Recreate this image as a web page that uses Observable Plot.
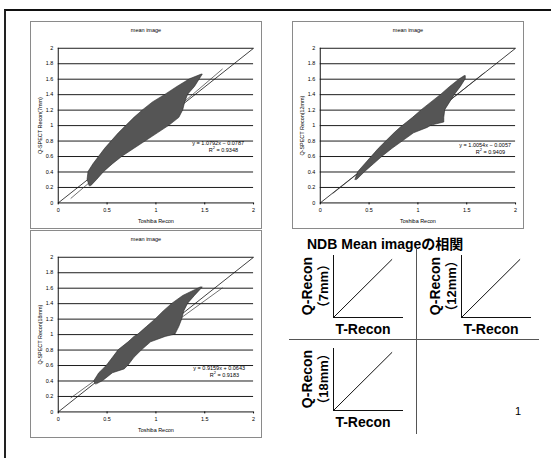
<!DOCTYPE html>
<html><head><meta charset="utf-8">
<script src="https://cdn.jsdelivr.net/npm/d3@7"></script>
<script src="https://cdn.jsdelivr.net/npm/@observablehq/plot@0.6"></script>
<style>
html,body{margin:0;padding:0;background:#fff;}
#page{position:relative;width:551px;height:462px;overflow:hidden;font-family:"Liberation Sans",Arial,sans-serif;}
.abs{position:absolute;}
.box{position:absolute;border:1px solid #8a8a8a;box-sizing:border-box;width:232px;height:208px;}
.box svg{position:absolute;left:0;top:0;}
.small{position:absolute;font-size:5.5px;color:#000;white-space:nowrap;line-height:7px;}
.big{position:absolute;font-weight:bold;font-size:14px;color:#000;white-space:nowrap;font-family:"Liberation Sans",Arial,"Noto Sans CJK JP",sans-serif;}
</style></head>
<body><div id="page"></div>
<script>
// ---- data ----
const xTicks = [0, 0.5, 1, 1.5, 2];
const yTicks = [0, 0.2, 0.4, 0.6, 0.8, 1, 1.2, 1.4, 1.6, 1.8, 2];
const identityX = [0, 2];
const identityY = [0, 2];

// 7mm cloud (horizontal slices)
const c7Y     = [0.22, 0.30, 0.40, 0.50, 0.60, 0.70, 0.80, 0.90, 1.00, 1.10, 1.20, 1.30, 1.40, 1.50, 1.60, 1.66];
const c7Left  = [0.32, 0.30, 0.31, 0.36, 0.42, 0.48, 0.55, 0.62, 0.70, 0.78, 0.87, 0.97, 1.10, 1.22, 1.35, 1.47];
const c7Right = [0.34, 0.40, 0.47, 0.56, 0.66, 0.78, 0.90, 1.02, 1.14, 1.24, 1.28, 1.30, 1.33, 1.40, 1.45, 1.48];
const trend7X = [0.13, 1.68];
const trend7Y = [0.06, 1.73];

// 12mm cloud
const c12Y     = [0.30, 0.40, 0.50, 0.60, 0.70, 0.80, 0.90, 0.97, 1.00, 1.04, 1.10, 1.20, 1.30, 1.40, 1.50, 1.60, 1.64];
const c12Left  = [0.36, 0.39, 0.46, 0.53, 0.60, 0.68, 0.76, 0.82, 0.85, 0.89, 0.95, 1.04, 1.14, 1.24, 1.33, 1.43, 1.48];
const c12Right = [0.38, 0.46, 0.55, 0.64, 0.74, 0.85, 0.96, 1.10, 1.14, 1.27, 1.27, 1.28, 1.33, 1.38, 1.44, 1.49, 1.49];
const trend12X = [0.13, 1.68];
const trend12Y = [0.125, 1.683];

// 18mm cloud
const c18Y     = [0.36, 0.40, 0.50, 0.55, 0.60, 0.70, 0.80, 0.90, 0.97, 1.00, 1.10, 1.20, 1.30, 1.40, 1.50, 1.61];
const c18Left  = [0.38, 0.37, 0.42, 0.46, 0.50, 0.56, 0.62, 0.72, 0.78, 0.82, 0.91, 1.00, 1.08, 1.17, 1.28, 1.46];
const c18Right = [0.40, 0.46, 0.56, 0.68, 0.72, 0.78, 0.86, 0.95, 1.10, 1.20, 1.24, 1.27, 1.29, 1.33, 1.40, 1.48];
const trend18X = [0.13, 1.68];
const trend18Y = [0.183, 1.603];

const chartTitles = ["mean image", "mean image", "mean image"];
const yLabels = ["Q-SPECT Recon(7mm)", "Q-SPECT Recon(12mm)", "Q-SPECT Recon(18mm)"];
const xLabel = "Toshiba Recon";
const equations = ["y = 1.0792x − 0.0787", "y = 1.0054x − 0.0057", "y = 0.9159x + 0.0643"];
const r2 = ["0.9348", "0.9409", "0.9183"];

// schematic
const schemDiagX = [0, 1];
const schemDiagY = [0, 1];
const schemYLabels = ["（7mm）", "（12mm）", "（18mm）"];

const page = document.getElementById("page");
function el(cls, html, css) {
  const d = document.createElement("div");
  d.className = cls; d.innerHTML = html; Object.assign(d.style, css); page.appendChild(d); return d;
}

function scatter(cy, cl, cr, tx, ty, yLabel) {
  const cloud = cy.map((y, i) => ({y, x1: cl[i], x2: cr[i]}));
  const ident = identityX.map((x, i) => ({x, y: identityY[i]}));
  const trend = tx.map((x, i) => ({x, y: ty[i]}));
  return Plot.plot({
    width: 232, height: 208,
    marginLeft: 27, marginRight: 8, marginTop: 26, marginBottom: 26,
    x: {domain: [0, 2]}, y: {domain: [0, 2]},
    style: {fontFamily: "Liberation Sans, Arial, sans-serif", fontSize: "5.5px", color: "#000", background: "transparent", overflow: "visible"},
    marks: [
      Plot.ruleY(yTicks.slice(1), {stroke: "#1a1a1a", strokeWidth: 1}),
      Plot.line(ident, {x: "x", y: "y", stroke: "#111", strokeWidth: 0.8}),
      Plot.line(trend, {x: "x", y: "y", stroke: "#333", strokeWidth: 0.7}),
      Plot.areaX(cloud, {y: "y", x1: "x1", x2: "x2", fill: "#555", stroke: "#2a2a2a", strokeWidth: 0.6}),
      Plot.ruleX([0], {stroke: "#111"}),
      Plot.ruleY([0], {stroke: "#111"}),
      Plot.axisY({ticks: yTicks, tickSize: 0, tickPadding: 5, fill: "#000", tickFormat: d => String(d), label: yLabel, labelAnchor: "center", labelArrow: "none", labelOffset: 20}),
      Plot.axisX({ticks: xTicks, tickSize: 2, tickPadding: 3, fill: "#000", tickFormat: d => String(d), label: xLabel, labelAnchor: "center", labelArrow: "none", labelOffset: 20})
    ]
  });
}

const charts = [
  {left: 30, top: 21, cy: c7Y, cl: c7Left, cr: c7Right, tx: trend7X, ty: trend7Y},
  {left: 292, top: 21, cy: c12Y, cl: c12Left, cr: c12Right, tx: trend12X, ty: trend12Y},
  {left: 30, top: 230, cy: c18Y, cl: c18Left, cr: c18Right, tx: trend18X, ty: trend18Y}
];
const eqPos = [{r: 17, t: 118}, {r: 12, t: 120}, {r: 16, t: 134}];
charts.forEach((c, i) => {
  const box = el("box", "", {left: c.left + "px", top: c.top + "px"});
  box.appendChild(scatter(c.cy, c.cl, c.cr, c.tx, c.ty, yLabels[i]));
  const t = document.createElement("div");
  t.className = "small"; t.textContent = chartTitles[i];
  Object.assign(t.style, {left: "0", width: "230px", textAlign: "center", top: "5px"});
  box.appendChild(t);
  const e1 = document.createElement("div");
  e1.className = "small"; e1.textContent = equations[i];
  Object.assign(e1.style, {right: eqPos[i].r + "px", top: eqPos[i].t + "px"});
  box.appendChild(e1);
  const e2 = document.createElement("div");
  e2.className = "small"; e2.innerHTML = "R<sup style='font-size:4px;line-height:0'>2</sup> = " + r2[i];
  Object.assign(e2.style, {right: (eqPos[i].r + 6) + "px", top: (eqPos[i].t + 7) + "px"});
  box.appendChild(e2);
});

// slide frame
el("abs", "", {left: "4px", top: "9px", width: "560px", height: "447px", borderTop: "2px solid #111", borderLeft: "2px solid #222"});

// heading
el("big", "NDB Mean imageの相関", {left: "307px", top: "233px"});

// dividers
el("abs", "", {left: "416px", top: "248px", width: "1px", height: "186px", background: "#555"});
el("abs", "", {left: "289px", top: "339px", width: "250px", height: "1px", background: "#555"});

// schematic mini plots
function mini() {
  const diag = schemDiagX.map((x, i) => ({x, y: schemDiagY[i]}));
  return Plot.plot({
    width: 72, height: 64, marginLeft: 1, marginRight: 1, marginTop: 1, marginBottom: 1,
    x: {domain: [0, 1.2], axis: null}, y: {domain: [0, 1.07], axis: null},
    style: {background: "transparent"},
    marks: [
      Plot.ruleX([0], {stroke: "#111", strokeWidth: 1}),
      Plot.ruleY([0], {stroke: "#111", strokeWidth: 1}),
      Plot.line(diag, {x: "x", y: "y", stroke: "#111", strokeWidth: 1})
    ]
  });
}
const minis = [{ax: 333, ay: 255}, {ax: 461, ay: 255}, {ax: 333, ay: 348}];
minis.forEach((m, i) => {
  const w = el("abs", "", {left: (m.ax - 1) + "px", top: (m.ay - 1) + "px"});
  w.appendChild(mini());
  const rot = {transform: "translate(-50%,-50%) rotate(-90deg)"};
  el("big", "Q-Recon", Object.assign({left: (m.ax - 26) + "px", top: (m.ay + 31) + "px"}, rot));
  el("big", schemYLabels[i], Object.assign({left: (m.ax - 11) + "px", top: (m.ay + 31) + "px", fontSize: "13px"}, rot));
  el("big", "T-Recon", {left: (m.ax + 30) + "px", top: (m.ay + 74) + "px", transform: "translate(-50%,-50%)"});
});

el("abs", "1", {left: "515px", top: "405px", fontSize: "11px"});
</script>
</body></html>
